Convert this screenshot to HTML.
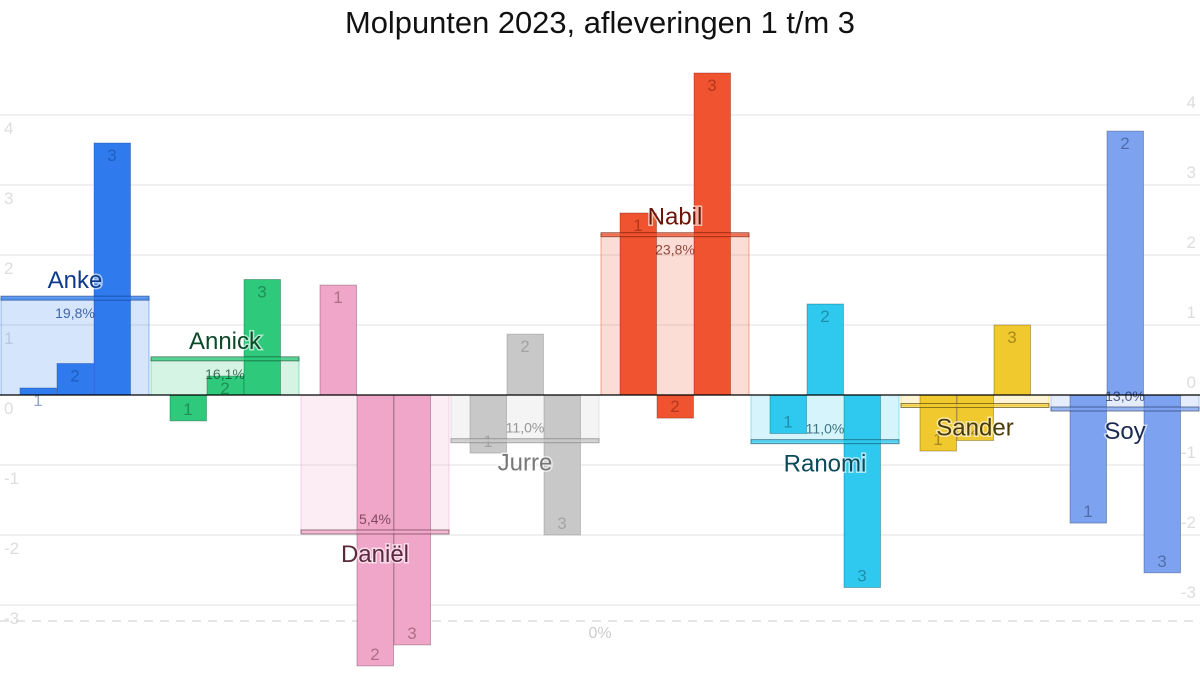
<!DOCTYPE html>
<html><head><meta charset="utf-8"><style>
body{margin:0;background:#fff;}
svg{display:block;font-family:"Liberation Sans Narrow","Liberation Sans",sans-serif;}
</style></head><body>
<svg id="chart" width="1200" height="700" viewBox="0 0 1200 700">
<text x="600" y="33" text-anchor="middle" font-size="31" fill="#111" textLength="510" lengthAdjust="spacingAndGlyphs">Molpunten 2023, afleveringen 1 t/m 3</text>
<g id="grid"></g><g id="groups"></g><g id="axis"></g>
</svg>
<script>
const names = ["Anke","Annick","Daniël","Jurre","Nabil","Ranomi","Sander","Soy"];
const ep1 = [0.1,-0.37,1.57,-0.83,2.6,-0.55,-0.8,-1.83];
const ep2 = [0.45,0.27,-3.87,0.87,-0.33,1.3,-0.65,3.77];
const ep3 = [3.6,1.65,-3.57,-2.0,4.6,-2.75,1.0,-2.54];
const pct = ["19,8%","16,1%","5,4%","11,0%","23,8%","11,0%","","13,0%"];
const ticks = [-3,-2,-1,0,1,2,3,4];
const colors = ["#2f7bed","#2ec97a","#f0a6c9","#c8c8c8","#f0532f","#2fc9ef","#f0c92f","#7da3f0"];
const dark = ["#0d3a8a","#0b4a28","#5a2a3c","#777","#6a1505","#0b4a5a","#4a3a05","#1a2a55"];
const NS="http://www.w3.org/2000/svg";
const y=v=>395-70*v, gx=i=>i*150;
function mk(tag,attrs,parent,txt){const e=document.createElementNS(NS,tag);for(const k in attrs)e.setAttribute(k,attrs[k]);if(txt!==undefined)e.textContent=txt;parent.appendChild(e);return e;}
const grid=document.getElementById('grid'),G=document.getElementById('groups'),ax=document.getElementById('axis');
ticks.forEach(t=>{
 if(t!==0){const l=mk('line',{x1:0,x2:1200,y1:y(t),y2:y(t),stroke:'#e2e2e2','stroke-width':1},grid);
 
 }
 const a=mk('text',{x:4,y:y(t)+19,'font-size':17,fill:'#ddd'},grid,String(t));
 
 
 const b=mk('text',{x:1196,y:y(t)-7,'font-size':17,fill:'#ddd','text-anchor':'end'},grid,String(t));
 
 
});
const dl=mk('line',{x1:0,x2:1200,y1:621,y2:621,stroke:'#ccc','stroke-dasharray':'9,7'},grid);


const zp=mk('text',{x:600,y:638,'font-size':16,fill:'#ccc','text-anchor':'middle'},grid,'0%');


names.forEach((n,i)=>{
 const g=mk('g',{},G);
 
 
 const vals=[ep1[i],ep2[i],ep3[i]];
 const avg=(vals[0]+vals[1]+vals[2])/3;
 const x0=gx(i), c=colors[i];
 const bg=mk('rect',{x:x0+1,y:Math.min(y(0),y(avg)),width:148,height:Math.abs(y(avg)-y(0)),fill:c,'fill-opacity':0.2,stroke:c,'stroke-opacity':0.5},g);
 
 
 vals.forEach((v,j)=>{
  const bx=x0+20+j*37;
  const r=mk('rect',{x:bx,y:Math.min(y(0),y(v)),width:36.5,height:Math.abs(y(v)-y(0)),fill:c,stroke:dark[i],'stroke-opacity':0.35},g);
  
  
  const ty=v>=0?y(v)+18:y(v)-6;
  const t=mk('text',{x:bx+18,y:ty,'font-size':17,fill:dark[i],'fill-opacity':0.45,'text-anchor':'middle'},g,String(j+1));
  
  
 });
 const al=mk('rect',{x:x0+1,y:y(avg)-2,width:148,height:4,fill:c,'fill-opacity':0.7,stroke:dark[i],'stroke-opacity':0.6},g);
 
 
 const pos=avg>=0;
 const nm=mk('text',{x:x0+75,y:pos?y(avg)-10:y(avg)+30,'font-size':24,fill:dark[i],'text-anchor':'middle',stroke:'#fff','stroke-width':3,'stroke-opacity':0.6,'paint-order':'stroke'},g,n);
 
 
 if(pct[i]){const p=mk('text',{x:x0+75,y:pos?y(avg)+20:y(avg)-8,'font-size':14,fill:dark[i],'fill-opacity':0.75,'text-anchor':'middle'},g,pct[i]);
 
 }
});
const zl=mk('line',{x1:0,x2:1200,y1:395,y2:395,stroke:'#000','stroke-width':1.2},ax);


</script>
</body></html>
